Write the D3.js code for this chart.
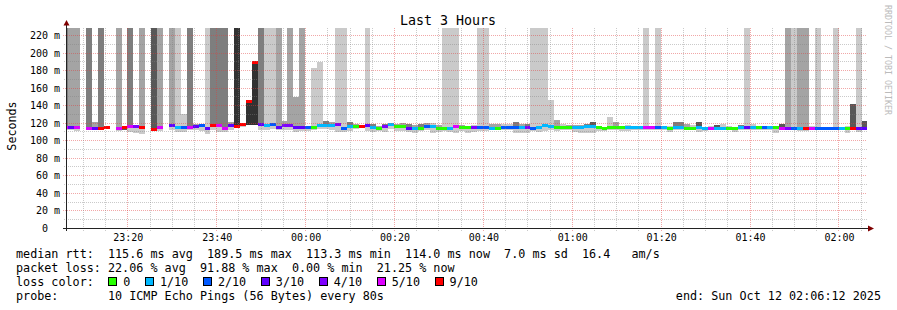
<!DOCTYPE html>
<html>
<head>
<meta charset="utf-8">
<script src="https://cdn.jsdelivr.net/npm/d3@7"></script>
<style>
body { margin: 0; background: #fff; }
svg { display: block; font-family: "DejaVu Sans Mono", monospace; }
</style>
</head>
<body>
<svg width="897" height="310"></svg>
<script>
// SmokePing style graph, 80s steps over the last 3 hours
var median = [
  115, 115, 115, null, 114.5, 114.5, 113.5, 115, null, 113.5,
  115, 116, 116.4, 115, null, 113, 115.5, null, 117, 115,
  115.5, 115, 116.5, 117, 114, 117, 117, 114, 117.5, 116.5,
  118, 145, 189.5, 118, 117, 118, 115.5, 117, 117, 115.5,
  115.5, 114.8, 115, 117, 117, 117.5, 118.5, 114, 116, 116.5,
  116.5, 117, 115, 114.5, 116.5, 118, 116, 116.5, 114, 114,
  114.5, 116.5, 116.5, 114.5, 114.5, 114.5, 116.5, 115, 115, 115,
  115, 115, 114.5, 114.5, 115, 115, 115, 115, 115.5, 114.5,
  115, 117, 116.5, 115, 115, 115, 115, 115, 116, 116,
  115, 113.5, 115, 115, 115, 115, 115, 115, 115, 115,
  115, 115, 114.5, 115, 115, 114.5, 114.5, 115, 113.5, 114.5,
  114.5, 114.5, 114.5, 114.5, 115, 115, 115, 115, 115, 115,
  115, 114.5, 114.5, 114.5, 114.5, 114.5, 114.5, 114.5, 114.5, 114.5,
  114.5, 114.5, 114.5, 114.5, 114.5, 114
];

// lost pings out of 10
var loss = [
  5, 3, 5, null, 5, 3, 9, 9, null, 5,
  9, 5, 4, 9, null, 9, 5, null, 3, 1,
  2, 5, 3, 2, 3, 9, 5, 5, 3, 9,
  9, 9, 9, 3, 1, 2, 3, 4, 4, 3,
  3, 2, 0, 1, 1, 1, 4, 2, 1, 0,
  9, 3, 1, 0, 4, 1, 0, 0, 3, 1,
  0, 2, 1, 0, 0, 1, 5, 0, 0, 4,
  2, 2, 1, 0, 2, 2, 2, 1, 4, 2,
  1, 1, 1, 0, 0, 0, 1, 1, 1, 1,
  0, 0, 0, 0, 0, 1, 1, 1, 5, 5,
  2, 1, 0, 1, 1, 0, 0, 1, 1, 5,
  1, 1, 0, 0, 1, 3, 1, 0, 2, 1,
  0, 5, 4, 2, 1, 9, 5, 2, 2, 2,
  2, 1, 0, 9, 3, 3
];

// smoke: lowest ping, far end of the grey band (240 = off the top), grey level
var smokeLo = [
  112, 112, 111, null, 112, 112, 112, 114, null, 111,
  112, 110, 109, 108, null, 112, 111, null, 112, 110,
  110, 112, 112, 111, 108, 112, 110, 110, 112, 114,
  116, 118, 118, 112, 112, 113, 112, 112, 112, 110,
  111, 111, 112, 113, 113, 112, 110, 110, 111, 113,
  115, 111, 110, 111, 110, 113, 111, 111, 110, 109,
  111, 112, 109, 110, 111, 110, 109, 111, 109, 110,
  111, 111, 112, 112, 112, 112, 109, 109, 109, 111,
  110, 111, 112, 111, 112, 112, 110, 109, 109, 108.5,
  111, 111, 112, 112, 111, 111, 112, 112, 112, 112,
  112, 112, 110, 112, 112, 112, 112, 110, 111, 112,
  112, 112, 112, 110, 112, 112, 112, 112, 112, 112,
  108.5, 112, 112, 112, 111, 111, 112, 112, 112, 112,
  112, 112, 109, 112, 110, 112
];

var smokeHi = [
  240, 240, 240, null, 240, 121.5, 240, 115, null, 240,
  112, 240, 118, 240, null, 240, 240, null, 240, 240,
  130, 240, 119, 118, 240, 240, 240, 240, 121, 240,
  119, 118, 118, 240, 240, 240, 240, 122, 240, 150,
  240, 117, 183, 190, 122, 121, 240, 240, 121, 119,
  118, 240, 119, 117, 119, 120, 119, 120, 119, 118,
  119, 120, 120, 118, 240, 240, 240, 118, 117, 118,
  240, 240, 119, 119, 119, 119, 121, 119, 119, 240,
  240, 240, 146.5, 123.6, 119, 118, 118, 118, 119, 121,
  117, 116, 127, 121, 117, 118, 117, 117, 240, 117,
  240, 117, 117, 121.3, 121.3, 119, 118, 121, 116, 117,
  118, 119, 117, 116, 118, 240, 119, 117, 117, 117,
  117, 119, 240, 240, 240, 240, 117, 240, 116, 116,
  240, 116, 117, 142, 240, 122
];

var smokeTone = [
  2, 1, 1, null, 2, 1, 2, 0, null, 1,
  3, 2, 1, 1, null, 3, 1, null, 1, 0,
  0, 2, 1, 0, 0, 2, 2, 2, 1, 4,
  1, 4, 4, 2, 0, 0, 1, 1, 1, 1,
  1, 0, 0, 0, 2, 1, 0, 0, 2, 1,
  1, 0, 2, 1, 2, 1, 1, 1, 2, 1,
  2, 1, 0, 1, 0, 0, 0, 1, 0, 0,
  0, 0, 1, 1, 0, 0, 2, 1, 2, 0,
  0, 0, 0, 1, 0, 1, 1, 1, 2, 3,
  0, 0, 0, 1, 0, 0, 0, 0, 0, 0,
  0, 0, 0, 2, 2, 1, 0, 3, 0, 0,
  3, 0, 0, 0, 2, 0, 0, 0, 0, 0,
  0, 3, 1, 0, 1, 1, 0, 0, 0, 0,
  0, 0, 0, 3, 0, 3
];

var yTicks = [0, 20, 40, 60, 80, 100, 120, 140, 160, 180, 200, 220];
var yTickLabels = ["0  ", "20 m", "40 m", "60 m", "80 m", "100 m", "120 m",
                   "140 m", "160 m", "180 m", "200 m", "220 m"];
var xTickLabels = ["23:20", "23:40", "00:00", "00:20", "00:40", "01:00", "01:20", "01:40", "02:00"];

var lossLabels = ["0", "1/10", "2/10", "3/10", "4/10", "5/10", "9/10"];
var lossColors = ["#26ff00", "#00b8ff", "#0059ff", "#5e00ff", "#7e00ff", "#dd00ff", "#ff0000"];
var shades = ["#cacaca", "#a4a4a4", "#7e7e7e", "#585858", "#323232"];

var legendLines = [
  "median rtt:  115.6 ms avg  189.5 ms max  113.3 ms min  114.0 ms now  7.0 ms sd  16.4   am/s",
  "packet loss: 22.06 % avg  91.88 % max  0.00 % min  21.25 % now"
];

var end = new Date(2025, 9, 12, 2, 6, 12);
var start = new Date(end.getTime() - 3 * 3600 * 1000);
var firstStep = start.getTime() - 57 * 1000;
var stepMs = 80 * 1000;

// keep runs of spaces in svg text
function keep(s) { return s.replace(/ /g, "\u00a0"); }

function lossColor(n) {
  if (n >= 9) return lossColors[6];
  if (n >= 5) return lossColors[5];
  return lossColors[n];
}

var svg = d3.select("svg");

var x = d3.scaleTime().domain([start, end]).range([66.5, 866.5]);
var y = d3.scaleLinear().domain([0, 228.7]).range([228.3, 28]);

var steps = median.map(function(m, i) {
  return {
    x0: Math.round(x(new Date(firstStep + i * stepMs))),
    x1: Math.round(x(new Date(firstStep + (i + 1) * stepMs))),
    med: m, loss: loss[i], lo: smokeLo[i], hi: smokeHi[i], tone: smokeTone[i]
  };
}).filter(function(d) { return d.med != null; });

svg.append("clipPath").attr("id", "plot")
  .append("rect").attr("x", 67).attr("y", 28).attr("width", 800).attr("height", 200);

var plot = svg.append("g").attr("clip-path", "url(#plot)").attr("shape-rendering", "crispEdges");

// light smoke below the median
plot.selectAll(".smokeDown")
  .data(steps)
  .enter()
  .append("rect")
  .attr("x", function(d) { return d.x0; })
  .attr("width", function(d) { return d.x1 - d.x0; })
  .attr("y", function(d) { return Math.round(y(d.med)); })
  .attr("height", function(d) { return Math.max(0, Math.round(y(d.lo)) - Math.round(y(d.med))); })
  .style("fill", shades[0]);

// toned smoke between the median and the far ping
plot.selectAll(".smokeBand")
  .data(steps)
  .enter()
  .append("rect")
  .attr("x", function(d) { return d.x0; })
  .attr("width", function(d) { return d.x1 - d.x0; })
  .attr("y", function(d) { return Math.round(y(Math.max(d.hi, d.med))); })
  .attr("height", function(d) { return Math.abs(Math.round(y(d.med)) - Math.round(y(d.hi))); })
  .style("fill", function(d) { return shades[d.tone]; });

// median coloured by loss
plot.selectAll(".median")
  .data(steps)
  .enter()
  .append("rect")
  .attr("x", function(d) { return d.x0; })
  .attr("width", function(d) { return d.x1 - d.x0; })
  .attr("y", function(d) { return Math.round(y(d.med) - 1.5); })
  .attr("height", 3)
  .style("fill", function(d) { return lossColor(d.loss); });

// grid
var grid = svg.append("g").attr("shape-rendering", "crispEdges");
var minorY = d3.range(10, 229, 10).filter(function(v) { return v % 20 !== 0; });
var majorY = yTicks.filter(function(v) { return v > 0; });
var majorX = x.ticks(d3.timeMinute.every(20));
var minorX = x.ticks(d3.timeMinute.every(5)).filter(function(t) { return t.getMinutes() % 20 !== 0; });

function py(v) { return Math.floor(y(v)) + 0.5; }
function px(t) { return Math.floor(x(t)) + 0.5; }

grid.selectAll(".gy").data(minorY).enter().append("line")
  .attr("x1", 64).attr("x2", 867).attr("y1", py).attr("y2", py)
  .style("stroke", "rgba(128,128,128,0.42)").style("stroke-dasharray", "1,1");
grid.selectAll(".my").data(majorY).enter().append("line")
  .attr("x1", 63).attr("x2", 867).attr("y1", py).attr("y2", py)
  .style("stroke", "rgba(225,60,60,0.45)").style("stroke-dasharray", "1,1");
grid.selectAll(".gx").data(minorX).enter().append("line")
  .attr("x1", px).attr("x2", px).attr("y1", 28).attr("y2", 231)
  .style("stroke", "rgba(128,128,128,0.42)").style("stroke-dasharray", "1,1");
grid.selectAll(".mx").data(majorX).enter().append("line")
  .attr("x1", px).attr("x2", px).attr("y1", 28).attr("y2", 232)
  .style("stroke", "rgba(225,60,60,0.45)").style("stroke-dasharray", "1,1");

// axes lines and arrows
svg.append("line").attr("x1", 63).attr("x2", 870).attr("y1", 228.5).attr("y2", 228.5)
  .style("stroke", "#222").attr("shape-rendering", "crispEdges");
svg.append("line").attr("x1", 66.5).attr("x2", 66.5).attr("y1", 231).attr("y2", 24)
  .style("stroke", "#222").attr("shape-rendering", "crispEdges");
svg.append("path").attr("d", "M868,225.5L874,228.5L868,231.5Z").style("fill", "#7f0000");
svg.append("path").attr("d", "M63.5,25.5L66.5,20L69.5,25.5Z").style("fill", "#7f0000");

// tick labels
var yAxis = d3.axisLeft(y).tickValues(yTicks).tickSize(0).tickPadding(0)
  .tickFormat(function(d, i) { return keep(yTickLabels[i]); });
var yg = svg.append("g").attr("transform", "translate(60,0)").call(yAxis);
yg.select(".domain").remove();
yg.selectAll("text").attr("font-family", "DejaVu Sans Mono").attr("font-size", 10).style("fill", "#000");

var xAxis = d3.axisBottom(x).ticks(d3.timeMinute.every(20)).tickSize(0).tickPadding(0)
  .tickFormat(function(d, i) { return xTickLabels[i]; });
var xg = svg.append("g").attr("transform", "translate(0,234)").call(xAxis);
xg.select(".domain").remove();
xg.selectAll("text").attr("font-family", "DejaVu Sans Mono").attr("font-size", 10).style("fill", "#000");

// title and labels
svg.append("text").attr("x", 448).attr("y", 24.5).attr("text-anchor", "middle")
  .attr("font-size", 13.3).style("fill", "#000").text("Last 3 Hours");
svg.append("text").attr("transform", "translate(16,126) rotate(-90)").attr("text-anchor", "middle")
  .attr("font-size", 11.7).style("fill", "#000").text("Seconds");
svg.append("text").attr("transform", "translate(885,5) rotate(90)")
  .attr("font-size", 8.3).style("fill", "#bbb").text("RRDTOOL / TOBI OETIKER");

// legend
var legend = svg.append("g").attr("font-size", 11.76).style("fill", "#000");
legend.selectAll(".line").data(legendLines).enter().append("text")
  .attr("x", 16).attr("y", function(d, i) { return 258 + i * 14; })
  .text(function(d) { return keep(d); });
legend.append("text").attr("x", 16).attr("y", 286).text(keep("loss color:"));
var lx = 108.3;
lossLabels.forEach(function(l, i) {
  legend.append("rect").attr("x", lx + 0.5).attr("y", 277.5).attr("width", 8).attr("height", 8)
    .style("fill", lossColors[i]).style("stroke", "#000").attr("shape-rendering", "crispEdges");
  legend.append("text").attr("x", lx + 15).attr("y", 286).text(l);
  lx += 15 + 7.08 * l.length + 14.6;
});
legend.append("text").attr("x", 16).attr("y", 300).text(keep("probe:       10 ICMP Echo Pings (56 Bytes) every 80s"));
legend.append("text").attr("x", 881).attr("y", 300).attr("text-anchor", "end").text(keep("end: Sun Oct 12 02:06:12 2025"));
</script>
</body>
</html>
